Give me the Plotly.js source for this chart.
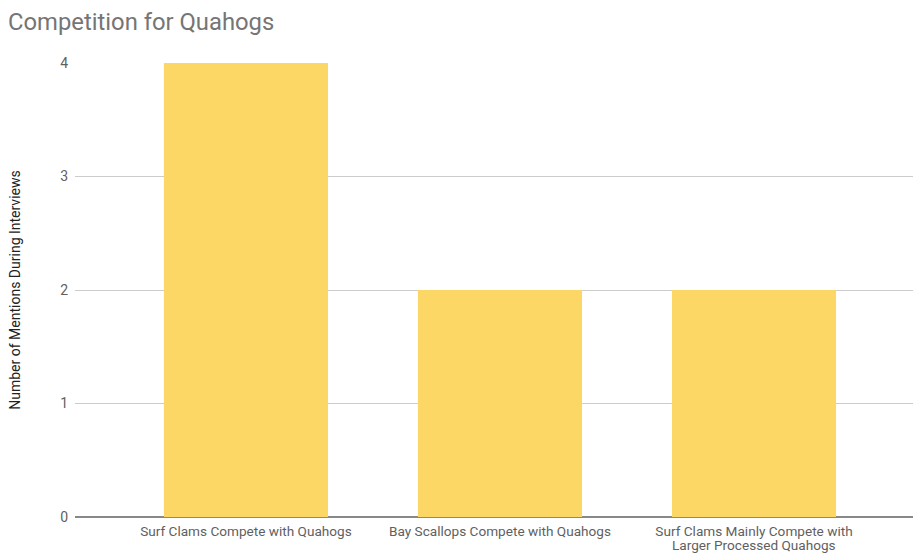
<!DOCTYPE html>
<html>
<head>
<meta charset="utf-8">
<script src="https://cdn.plot.ly/plotly-3.0.1.min.js"></script>
<style>html,body{margin:0;padding:0;background:#fff;}#chart{width:913px;height:554px;}</style>
</head>
<body>
<div id="chart"></div>
<script>
const categories = [
  "Surf Clams Compete with Quahogs",
  "Bay Scallops Compete with Quahogs",
  "Surf Clams Mainly Compete with Larger Processed Quahogs"
];
const labelLine1 = [
  "Surf Clams Compete with Quahogs",
  "Bay Scallops Compete with Quahogs",
  "Surf Clams Mainly Compete with"
];
const labelLine2 = ["", "", "Larger Processed Quahogs"];
const mentions = [4, 2, 2];
const yTicks = [0, 1, 2, 3, 4];

const trace = {
  type: "bar",
  x: categories,
  y: mentions,
  marker: {color: "#fdd766"},
  hoverinfo: "none"
};

const labelFont = {family: "Roboto, Arial, sans-serif", size: 13.6, color: "#5f5f5f"};

const annotations = categories
  .map((c, i) => ({c, t: labelLine2[i]}))
  .filter(o => o.t)
  .map(o => ({
    x: o.c, xref: "x",
    y: 0, yref: "paper",
    yshift: -28,
    yanchor: "middle",
    borderpad: 0,
    text: o.t,
    showarrow: false,
    font: labelFont
  }));

const layout = {
  width: 913,
  height: 554,
  margin: {l: 75, r: 0, t: 63, b: 37},
  paper_bgcolor: "#ffffff",
  plot_bgcolor: "#ffffff",
  font: {family: "Roboto, Arial, sans-serif", color: "#5f5f5f", size: 14},
  title: {
    text: "Competition for Quahogs",
    font: {family: "Roboto, Arial, sans-serif", size: 23.8, color: "#757575"},
    x: 8 / 913, xanchor: "left", xref: "container",
    y: 1 - 22 / 554, yanchor: "middle", yref: "container"
  },
  bargap: 0.354,
  showlegend: false,
  annotations: annotations,
  xaxis: {
    type: "category",
    range: [-0.673, 2.626],
    tickvals: categories,
    ticktext: labelLine1,
    showgrid: false,
    showline: false,
    zeroline: false,
    ticks: "",
    ticklabelstandoff: 4,
    tickfont: labelFont,
    automargin: false,
    fixedrange: true
  },
  yaxis: {
    range: [0, 4],
    tickvals: yTicks,
    ticktext: yTicks.map(String),
    showgrid: true,
    gridcolor: "#cccccc",
    gridwidth: 1,
    zeroline: true,
    zerolinecolor: "#888888",
    zerolinewidth: 2,
    showline: false,
    ticks: "",
    ticklabelstandoff: 6,
    tickfont: {family: "Roboto, Arial, sans-serif", size: 14, color: "#5f5f5f"},
    title: {
      text: "Number of Mentions During Interviews",
      font: {family: "Roboto, Arial, sans-serif", size: 14, color: "#222222"},
      standoff: 36
    },
    automargin: false,
    fixedrange: true
  }
};

Plotly.newPlot("chart", [trace], layout, {displayModeBar: false, staticPlot: true});
</script>
</body>
</html>
